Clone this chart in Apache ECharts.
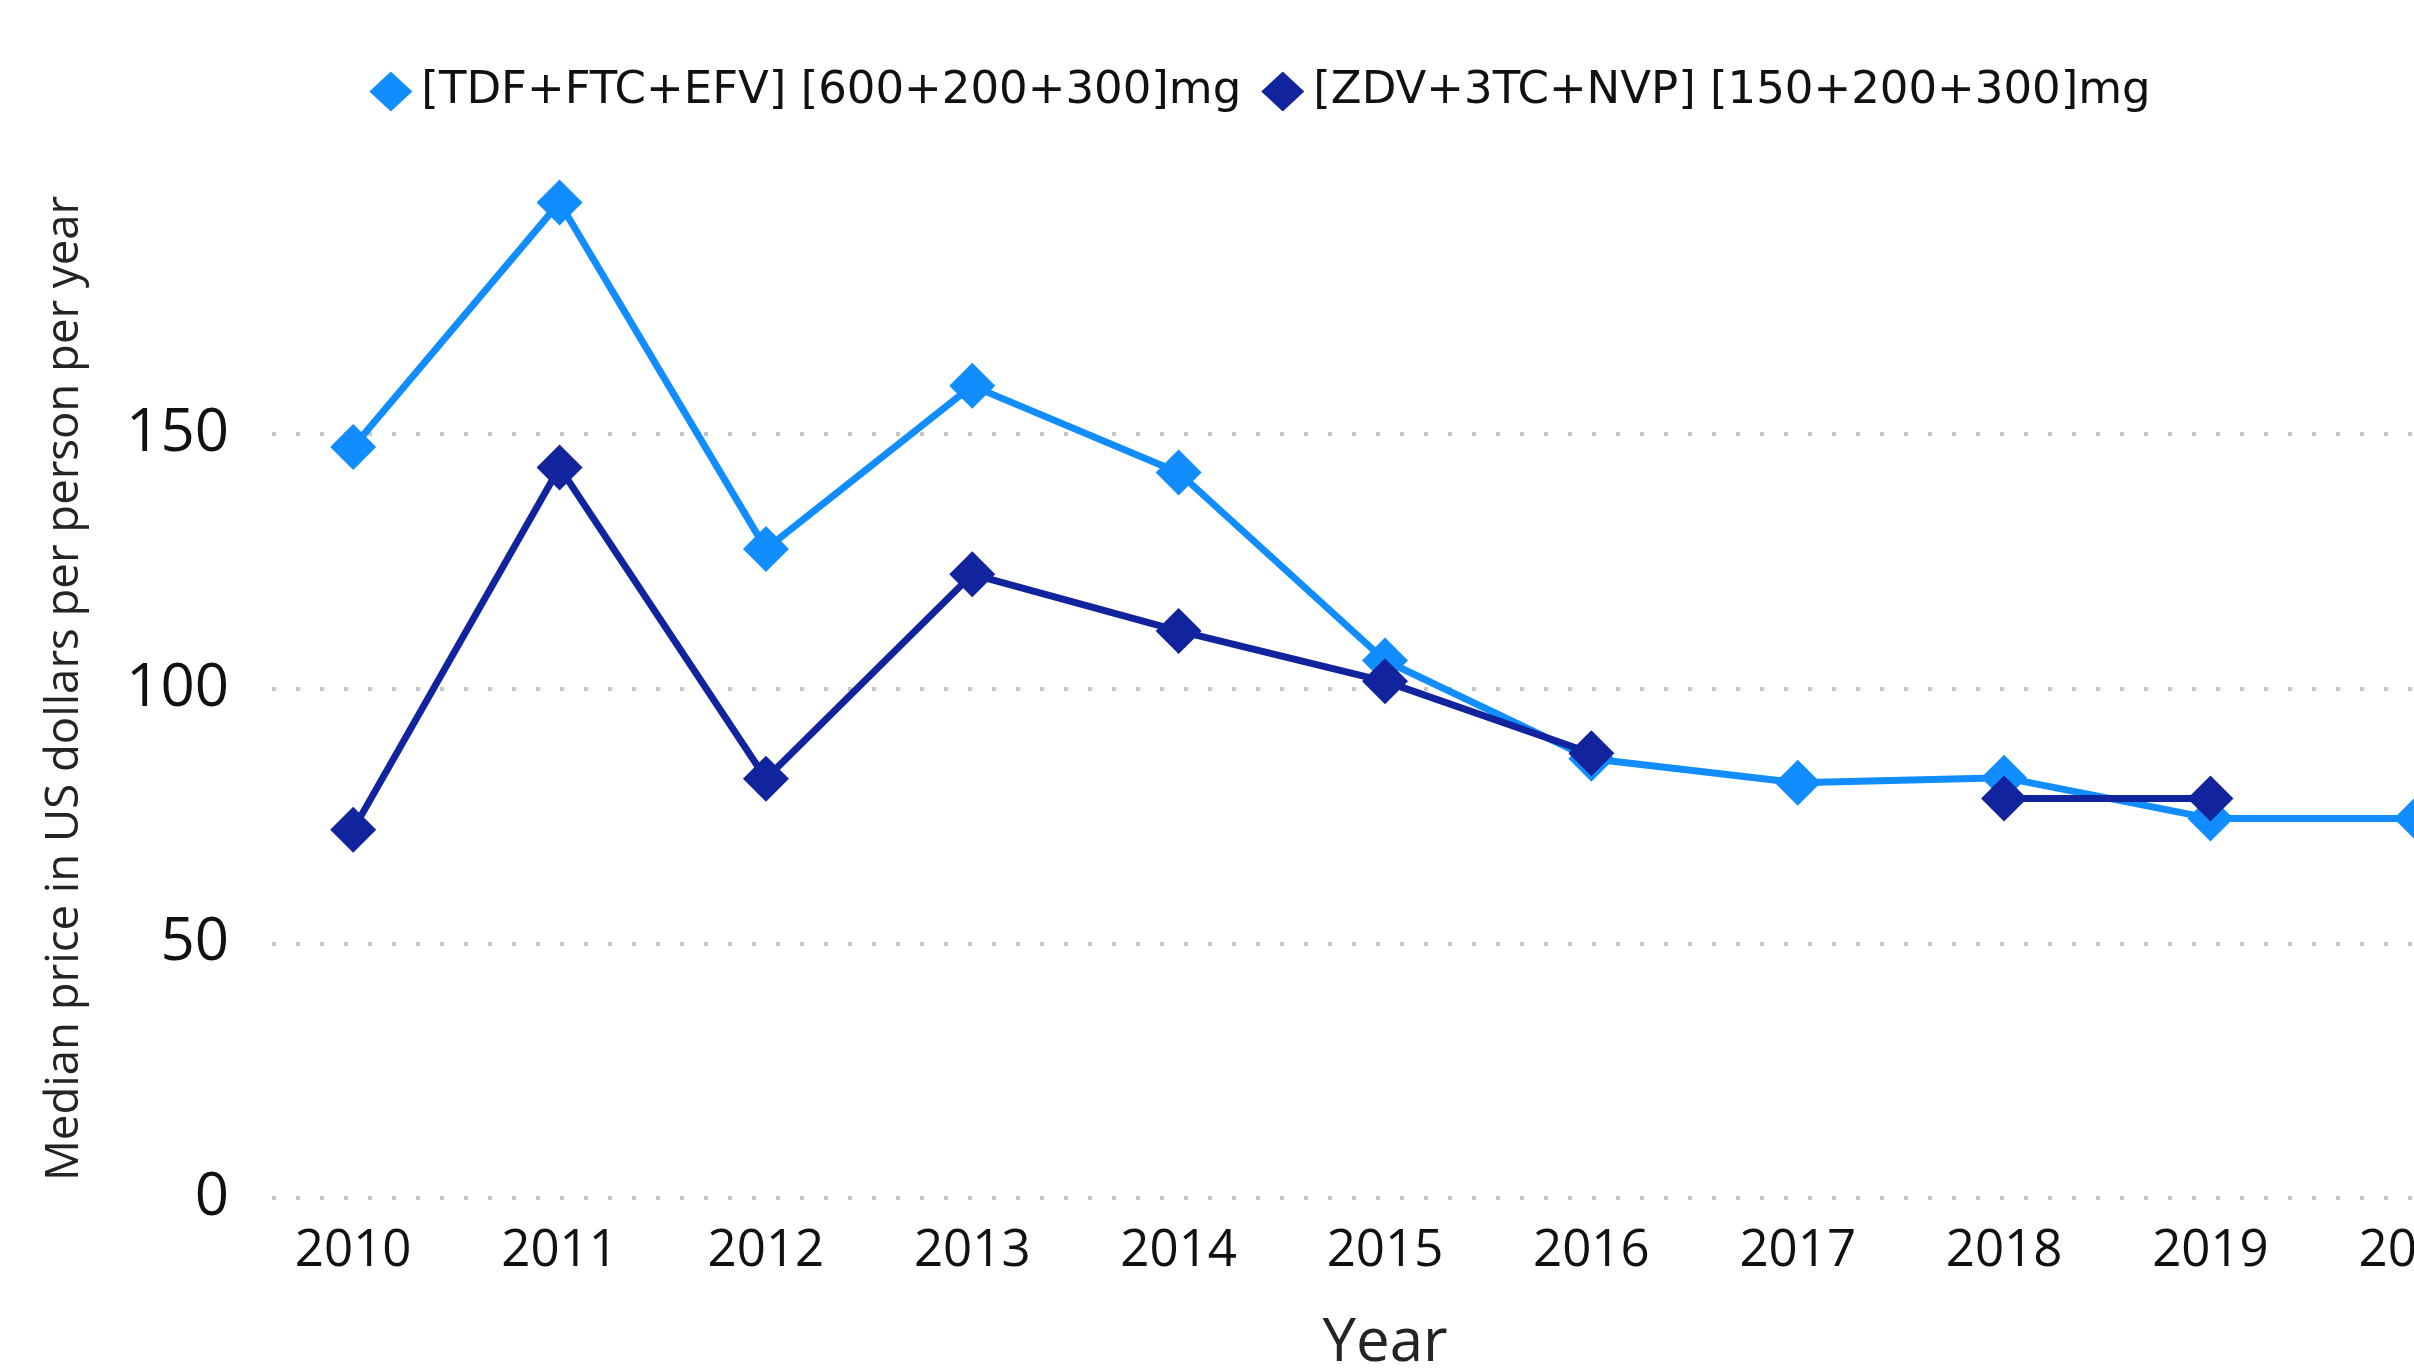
<!DOCTYPE html>
<html>
<head>
<meta charset="utf-8">
<script src="https://cdn.jsdelivr.net/npm/echarts@6/dist/echarts.min.js"></script>
<style>
html,body{margin:0;padding:0;overflow:hidden;background:#ffffff;width:2414px;height:1371px;}
#chart{position:absolute;left:0;top:0;width:2520px;height:1440px;}
</style>
</head>
<body>
<div id="chart"></div>
<script>
// ---- data ----
const years = ['2010','2011','2012','2013','2014','2015','2016','2017','2018','2019','2020'];
const tdfValues = [147.4, 195.4, 127.4, 159.4, 142.4, 105.5, 86.2, 81.5, 82.5, 74.5, 74.5];
const zdvValues = [72.3, 143.4, 82.3, 122.4, 111.3, 101.4, 87.3, null, 78.4, 78.4, null];
const seriesNames = ['[TDF+FTC+EFV] [600+200+300]mg', '[ZDV+3TC+NVP] [150+200+300]mg'];
const yAxisTitle = 'Median price in US dollars per person per year';
const xAxisTitle = 'Year';
const yMin = 0, yMax = 200, yStep = 50;

const colors = ['#118DFF', '#12239E'];
const chart = echarts.init(document.getElementById('chart'), null, {renderer: 'canvas'});

chart.setOption({
  animation: false,
  backgroundColor: '#ffffff',
  color: colors,
  legend: {
    top: 64,
    left: 'center',
    icon: 'diamond',
    itemWidth: 43,
    itemHeight: 40,
    itemGap: 20,
    textStyle: {fontFamily: 'DejaVu Sans', fontSize: 45, color: '#111111', padding: [0, 0, 0, 4]},
    data: seriesNames
  },
  grid: [
    {left: 250, right: 0, top: 179, bottom: 242, containLabel: false},
    {left: 272, right: 0, top: 179, bottom: 242, containLabel: false}
  ],
  xAxis: [
    {
      type: 'category',
      gridIndex: 0,
      data: years,
      boundaryGap: true,
      axisLine: {show: false},
      axisTick: {show: false},
      axisLabel: {fontFamily: 'Open Sans', fontSize: 51, color: '#111111', margin: 28, interval: 0},
      name: xAxisTitle,
      nameLocation: 'middle',
      nameGap: 116,
      nameTextStyle: {fontFamily: 'Open Sans', fontSize: 60, color: '#252423'}
    },
    {
      type: 'category',
      gridIndex: 1,
      data: years,
      show: false
    }
  ],
  yAxis: [
    {
      type: 'value',
      gridIndex: 0,
      min: yMin,
      max: yMax,
      interval: yStep,
      axisLine: {show: false},
      axisTick: {show: false},
      axisLabel: {fontFamily: 'Open Sans', fontSize: 60, color: '#111111', margin: 21, showMaxLabel: false},
      splitLine: {show: false},
      name: yAxisTitle,
      nameLocation: 'middle',
      nameGap: 162,
      nameTextStyle: {fontFamily: 'Open Sans', fontSize: 45.5, color: '#252423'}
    },
    {
      type: 'value',
      gridIndex: 1,
      min: yMin,
      max: yMax,
      interval: yStep,
      axisLine: {show: false},
      axisTick: {show: false},
      axisLabel: {show: false},
      splitLine: {show: true, showMaxLine: false, lineStyle: {color: '#C6C6C6', width: 4, type: [4, 20]}}
    }
  ],
  series: [
    {
      name: seriesNames[0],
      type: 'line',
      xAxisIndex: 0,
      yAxisIndex: 0,
      data: tdfValues,
      symbol: 'diamond',
      symbolSize: 46,
      connectNulls: false,
      lineStyle: {width: 7, color: colors[0]},
      itemStyle: {color: colors[0]}
    },
    {
      name: seriesNames[1],
      type: 'line',
      xAxisIndex: 0,
      yAxisIndex: 0,
      data: zdvValues,
      symbol: 'diamond',
      symbolSize: 46,
      connectNulls: false,
      lineStyle: {width: 7, color: colors[1]},
      itemStyle: {color: colors[1]}
    }
  ]
});
</script>
</body>
</html>
